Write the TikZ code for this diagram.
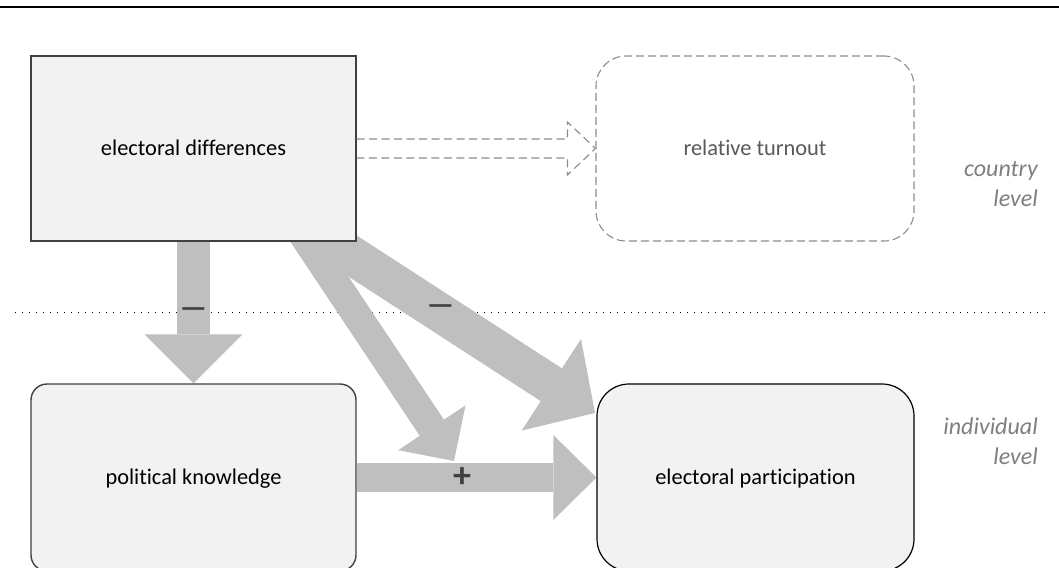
\documentclass[tikz,border=0pt]{standalone}
\usepackage{fontspec}
\setmainfont{Carlito}[Ligatures=NoCommon]
\usetikzlibrary{arrows.meta,calc}
\pgfdeclarelayer{bg}
\pgfsetlayers{bg,main}
\definecolor{boxfill}{HTML}{F2F2F2}
\definecolor{boxline}{HTML}{404040}
\definecolor{arrowgrey}{HTML}{BFBFBF}
\definecolor{dashgrey}{HTML}{8C8C8C}
\definecolor{txtgrey}{HTML}{595959}
\definecolor{lvlgrey}{HTML}{7F7F7F}
\definecolor{signgrey}{HTML}{404040}
\begin{document}
\begin{tikzpicture}[x=1pt,y=-1pt,
  font=\fontsize{22.4}{27}\selectfont,
  box/.style={draw=boxline, fill=boxfill, line width=1.4pt, inner sep=0pt,
    text height=14.5pt, text depth=0pt, align=center},
  dashbox/.style={draw=dashgrey, line width=1.1pt, dash pattern=on 8pt off 4pt,
    inner sep=0pt, text height=14.5pt, text depth=0pt, text=txtgrey},
  dashline/.style={draw=dashgrey, line width=1.1pt, dash pattern=on 8pt off 4.5pt},
  bigarrow/.style={draw=arrowgrey},
  levellabel/.style={anchor=base east, inner sep=0pt, text=lvlgrey, font=\fontsize{24}{27}\selectfont\itshape},
  sign/.style={inner sep=0pt, text=signgrey, font=\fontsize{30}{32}\selectfont\bfseries},
  dotline/.style={line width=1.2pt, dash pattern=on 1.2pt off 5.8pt}
]
\useasboundingbox (0,0) rectangle (1059,567);

% top rule
\draw[line width=2pt] (0,7.5) coordinate (r1) -- (1059,7.5) coordinate (r2);

% boxes
\node[box, minimum width=325pt, minimum height=185pt] (ed) at (193.5,148.5) {electoral differences};
\node[dashbox, rounded corners=30pt, minimum width=318pt, minimum height=185pt] (rt) at (755,148.5) {relative turnout};
\node[box, rounded corners=16pt, minimum width=325pt, minimum height=187pt] (pk) at (193.5,477.5) {political knowledge};
\node[box, draw=black, line width=1.2pt, rounded corners=32pt, minimum width=317pt, minimum height=187pt] (ep) at (755.5,477.5) {electoral participation};

% level labels
\node[levellabel] (cl1) at (1038,176) {country};
\node[levellabel] (cl2) at (1038,206) {level};
\node[levellabel] (il1) at (1038,434) {individual};
\node[levellabel] (il2) at (1038,464) {level};

% coordinates for the diagonal arrows
\coordinate (s1) at (280,200);
\coordinate (t1) at (454,461);
\coordinate (s2) at (300,222);
\coordinate (t2) at (595,413);
\coordinate (d1) at (15,312.5);
\coordinate (d2) at (1050,312.5);

\begin{pgfonlayer}{bg}
\draw[dotline] (d1) -- (d2);
\draw[bigarrow, line width=33pt, -{Triangle[length=49pt,width=98pt,line width=0pt]}] (ed.south) -- (pk.north);
\draw[bigarrow, line width=29pt, -{Triangle[length=40pt,width=81pt,line width=0pt]}] (s1) -- (t1);
\draw[bigarrow, line width=39pt, -{Triangle[length=52pt,width=109pt,line width=0pt]}] (s2) -- (t2);
\draw[bigarrow, line width=29pt, -{Triangle[length=43pt,width=85pt,line width=0pt]}] (pk.east) -- (ep.west);
\end{pgfonlayer}

% hollow dashed arrow
\draw[dashline] ([yshift=9.5pt]ed.east) -- ([xshift=-28pt,yshift=9.5pt]rt.west)
  -- ([xshift=-28pt,yshift=26.5pt]rt.west) -- (rt.west)
  -- ([xshift=-28pt,yshift=-26.5pt]rt.west) -- ([xshift=-28pt,yshift=-9.5pt]rt.west)
  -- ([yshift=-9.5pt]ed.east);

% signs
\node[sign] (m1) at (193.5,312.5) {—};
\node[sign] (m2) at (440.5,310) {—};
\node[sign, font=\fontsize{36}{38}\selectfont\bfseries] (p1) at (462,478) {+};
\end{tikzpicture}
\end{document}
